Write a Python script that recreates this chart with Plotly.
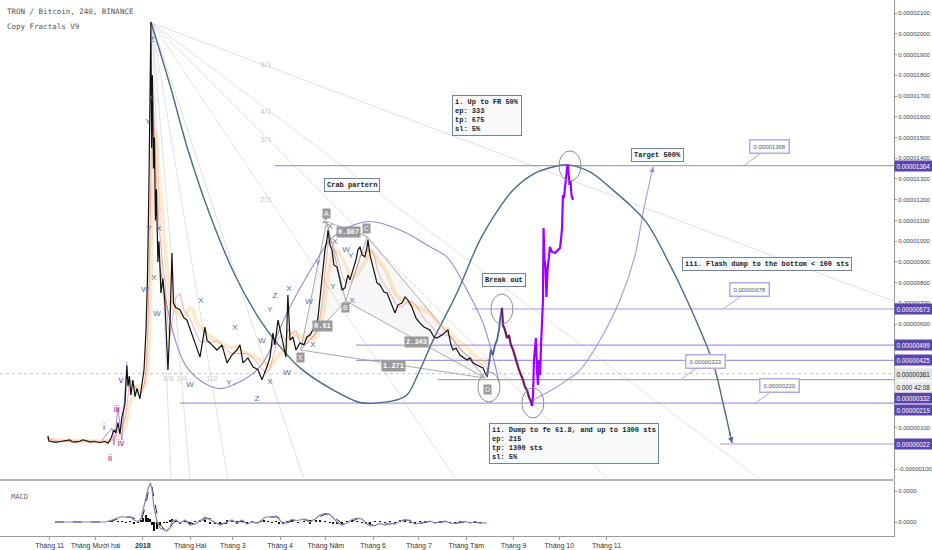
import pandas as pd
import plotly.graph_objects as go

BASE = pd.Timestamp("2017-11-01")
SAT = 1e-8


def when(days):
    return [BASE + pd.Timedelta(days=float(d)) for d in days]


def btc(sats):
    return [s * SAT for s in sats]


def split(pairs):
    return [p[0] for p in pairs], [p[1] for p in pairs]


# ---------------- data (days since 2017-11-01, price in satoshi) ----------------
price_obs = [
    (-1.2, 60), (-0.6, 36), (1.4, 33), (4.0, 30), (6.7, 34), (10.0, 38), (13.2, 42), (14.5, 33),
    (16.5, 31), (19.8, 35), (21.5, 42), (23.1, 40), (26.4, 31), (29.6, 34), (32.9, 28), (36.2, 35),
    (38.2, 26), (40.1, 48), (42.1, 90), (43.4, 75), (44.7, 125), (46.0, 70), (47.3, 150), (49.3, 215),
    (50.6, 400), (51.3, 300), (52.2, 350), (53.2, 258), (54.5, 330), (55.9, 250), (57.2, 290),
    (59.1, 240), (60.4, 300), (61.8, 380), (63.1, 570), (64.0, 800), (65.0, 1250), (65.7, 1700),
    (66.3, 2057), (66.8, 1450), (67.3, 1800), (68.0, 1350), (68.6, 1500), (69.3, 1100), (69.9, 1250),
    (70.9, 900), (71.6, 1000), (72.9, 750), (74.2, 820), (75.5, 700), (76.8, 476), (77.5, 379),
    (78.8, 600), (80.1, 943), (81.1, 700), (82.7, 680), (85.4, 668), (88.0, 630), (89.9, 620),
    (91.9, 580), (93.9, 538), (95.8, 500), (98.5, 441), (101.7, 586), (103.1, 523), (106.3, 500),
    (109.6, 475), (112.9, 500), (116.2, 413), (119.4, 451), (122.7, 475), (124.7, 500), (126.7, 413),
    (129.9, 437), (133.2, 394), (136.5, 380), (139.1, 331), (141.1, 370), (142.4, 394), (144.4, 441),
    (146.3, 557), (147.6, 500), (149.6, 620), (152.9, 509), (154.8, 441), (156.1, 740), (157.5, 523),
    (159.4, 538), (161.4, 475), (164.0, 509), (166.6, 500), (168.6, 538), (170.6, 547), (172.5, 572),
    (174.5, 595), (175.8, 629), (177.1, 716), (178.4, 828), (179.7, 909), (180.4, 958), (181.7, 1006),
    (182.4, 1054), (183.7, 982), (185.0, 958), (186.3, 885), (188.3, 875), (190.2, 813), (191.6, 765),
    (193.5, 775), (195.5, 837), (196.8, 813), (198.8, 861), (200.7, 909), (202.0, 958), (203.4, 972),
    (204.7, 934), (206.6, 925), (207.9, 968), (208.6, 1006), (209.9, 934), (211.2, 895), (213.2, 837),
    (214.5, 799), (216.5, 789), (219.1, 755), (221.1, 750), (223.0, 716), (225.0, 678), (226.3, 654),
    (228.3, 693), (230.9, 702), (232.9, 731), (234.8, 716), (237.4, 682), (240.1, 629), (242.7, 605),
    (245.3, 586), (249.2, 572), (251.9, 538), (253.8, 533), (257.1, 547), (261.0, 572), (263.0, 500),
    (264.3, 476), (266.3, 485), (268.9, 451), (271.5, 437), (273.5, 427), (275.5, 437), (277.4, 413),
    (280.1, 403), (282.0, 398), (284.0, 389), (286.6, 345),
]
fractal_up = [
    (286.6, 345), (287.9, 403), (289.2, 476), (290.5, 451), (291.9, 500), (293.2, 523), (294.5, 572),
    (295.1, 620), (295.8, 658), (296.4, 678),
]
fractal_dump = [
    (296.4, 678), (297.1, 595), (298.4, 572), (299.7, 533), (301.0, 547), (302.3, 500), (303.7, 476),
    (305.0, 441), (306.3, 418), (307.6, 379), (308.9, 355), (310.2, 331), (311.5, 297), (312.8, 283),
    (314.1, 249), (315.5, 225), (316.1, 205),
]
fractal_pump = [
    (316.1, 205), (316.8, 258), (317.4, 427), (318.1, 500), (318.7, 533), (319.4, 379), (320.0, 307),
    (320.7, 427), (321.4, 355), (322.0, 490), (322.7, 620), (323.3, 716), (323.7, 1063), (324.3, 909),
    (325.0, 875), (325.6, 731), (326.3, 861), (327.3, 958), (327.9, 972), (329.2, 948), (331.2, 943),
    (333.2, 958), (334.5, 967), (335.1, 1006), (335.8, 1063), (336.4, 1222), (337.1, 1208),
    (337.7, 1256), (338.4, 1319), (339.1, 1353), (339.7, 1368), (340.2, 1319), (340.7, 1271),
    (341.3, 1295), (342.0, 1222), (343.0, 1199),
]

# big hand-drawn wave curve
wave_curve = [
    (66.3, 2057), (78.8, 1753), (90.6, 1440), (105.0, 1127), (121.4, 837), (137.8, 620), (148.9, 509),
    (164.0, 389), (185.6, 283), (203.3, 222), (215.0, 220), (226.2, 232), (234.1, 258), (241.5, 360),
    (251.4, 524), (266.9, 750), (282.0, 1005), (295.1, 1164), (303.6, 1246), (318.1, 1328),
    (331.2, 1360), (339.7, 1368), (354.1, 1334), (369.2, 1246), (380.4, 1174), (391.5, 1087),
    (403.3, 933), (417.7, 716), (434.8, 413), (441.3, 220), (447.2, 27),
]
crab_arc = [
    (72.2, 877), (89.6, 395), (109.4, 291), (120.3, 307), (137.8, 395), (157.5, 684), (175.0, 909),
    (185.9, 1022), (207.7, 1094), (229.6, 1054), (249.2, 973), (260.4, 923), (273.5, 764),
    (284.0, 605), (290.6, 441), (294.5, 320),
]
target_arc = [
    (316.8, 234), (331.2, 292), (347.6, 378), (360.7, 523), (373.8, 716), (383.7, 933),
    (388.9, 1136), (393.5, 1295), (395.5, 1358),
]
impulse_zigzag = [(32.9, 27), (40.8, 99), (42.1, 17), (44.7, 196), (47.3, 41), (50.6, 418)]

# horizontal levels
level_sats = [1364, 673, 499, 425, 332, 219, 22]
level_start_days = [147.6, 276.8, 200.7, 200.7, 254.5, 85.3, 439.3]
level_tag_shift = [0, 0, 0, 0, -18, -7, 0]
last_price_sats = 361

# Gann fan from the January top
fan_origin = (67.0, 2052)
fan_ends = [(552.7, 712), (464.7, -142), (365.2, -142), (265.8, -142), (166.4, -142),
            (116.7, -142), (91.8, -142), (79.4, -142)]
fan_labels = ["8/1", "4/1", "3/1", "2/1", "1/8", "1/4", "1/2"]
fan_label_days = [141.7, 141.7, 141.7, 141.7, 77.5, 86.7, 106.3]
fan_label_sats = [1850, 1623, 1488, 1199, 336, 336, 336]

# crab pattern XABCD
crab_names = ["X", "A", "B", "C", "D"]
crab_days = [164.5, 181.5, 194.0, 208.1, 285.3]
crab_sats = [475, 1094, 712, 1022, 340]
crab_label_days = [164.5, 181.5, 194.0, 207.9, 287.2]
crab_label_sats = [438, 1135, 678, 1059, 283]
ratio_text = ["0.807", "0.61", "2.343", "1.271"]
ratio_days = [195.6, 179.1, 240.4, 225.3]
ratio_sats = [1042, 589, 512, 398]

# wave labels
wave_text = ["Z", "X", "Y", "X", "Y", "W", "X", "W", "X", "X", "W", "Y", "Z", "W", "Y", "Z", "X",
             "X", "W", "W", "X", "Y", "Z", "X", "X", "W", "Y", "X", "Y"]
wave_days = [67.0, 66.3, 64.4, 71.6, 65.0, 62.4, 68.3, 70.3, 99.1, 121.4, 91.9, 117.5, 135.8, 139.1,
             144.3, 147.6, 156.8, 144.3, 155.5, 169.9, 172.5, 175.8, 180.4, 183.7, 187.0, 194.2,
             197.4, 198.1, 185.6]
wave_sats = [1970, 1691, 1575, 1059, 1059, 765, 823, 649, 712, 582, 307, 316, 239, 519, 668, 736, 770,
             321, 365, 707, 500, 895, 1097, 1069, 996, 958, 929, 712, 779]
roman_text = ["i", "ii", "iii", "iv", "v"]
roman_days = [35.5, 39.5, 44.0, 46.7, 46.7]
roman_sats = [99, -50, 186, 22, 326]

# marked circles (day, sats)
circle_points = [(341.0, 1363), (296.4, 673), (287.9, 297), (316.7, 220)]

# text notes: (text, day, sats, anchor)
notes = [
    ("i. Up to FR 50%<br>ep: 333<br>tp: 675<br>sl: 5%", 263.6, 1705, "left", "top"),
    ("Target 500%", 398.7, 1416, "center", "middle"),
    ("iii. Flash dump to the bottom &lt; 100 sts", 470.1, 892, "center", "middle"),
    ("Break out", 297.7, 813, "center", "middle"),
    ("Crab partern", 198.4, 1273, "center", "middle"),
    ("ii. Dump to fe 61.8, and up to 1300 sts<br>ep: 215<br>tp: 1300 sts<br>sl: 5%", 287.9, 123,
     "left", "top"),
]
# price callouts: text, box centre (day, sats), pointer (day, sats)
callouts = [
    ("0.00001368", 471.9, 1457, 455.7, 1368),
    ("0.00000678", 459.0, 765, 441.2, 672),
    ("0.00000333", 429.8, 418, 413.1, 331),
    ("0.00000220", 478.6, 304, 462.2, 218),
]

# MACD (satoshi)
macd_days = [3.4, 36.2, 40.8, 44.7, 47.3, 50.0, 52.6, 55.2, 57.8, 59.8,
             61.1, 63.1, 64.4, 66.0, 67.0, 68.3, 70.3, 72.2, 74.9, 76.8,
             78.8, 80.1, 82.7, 85.4, 88.6, 91.9, 95.2, 98.5, 101.7, 105.0,
             108.3, 111.6, 116.2, 119.4, 122.7, 126.0, 129.3, 132.6, 136.5, 140.5,
             143.1, 145.7, 148.3, 150.3, 152.9, 155.5, 158.8, 162.7, 166.6, 170.6,
             174.5, 177.1, 180.4, 183.7, 185.6, 188.3, 191.6, 194.9, 198.2, 201.5,
             204.7, 207.3, 210.0, 213.2, 216.5, 219.8, 223.0, 226.3, 229.6, 232.8,
             236.1, 239.4, 242.7, 245.9, 249.2, 252.5, 255.8, 259.0, 262.3, 265.6,
             268.9, 272.2, 275.5, 278.7, 282.0, 286.6]
macd_sats = [0, 0, 20, 40, 55, 45, 55, 20, 5, 30,
             110, 250, 330, 390, 330, 150, 10, -60, -80, -90,
             -60, 10, 20, -10, 20, -30, -20, 10, 50, 25,
             0, -30, 0, 20, -10, 20, -20, 0, -10, 40,
             55, 45, 60, 30, -20, 0, 25, 15, 30, 0,
             35, 70, 85, 75, 40, 0, -30, -10, 25, 40,
             30, -10, -40, -35, -15, -30, -10, -20, 10, 25,
             10, -20, -10, 0, 10, -10, 0, 10, -10, -15,
             0, 5, -10, 0, -10, -10]

month_ticks = ["2017-11-01", "2017-12-01", "2018-01-01", "2018-02-01", "2018-03-01", "2018-04-01",
               "2018-05-01", "2018-06-01", "2018-07-01", "2018-08-01", "2018-09-01", "2018-10-01",
               "2018-11-01"]
month_text = ["Tháng 11", "Tháng Mười hai", "<b>2018</b>", "Tháng Hai", "Tháng 3", "Tháng 4",
              "Tháng Năm", "Tháng 6", "Tháng 7", "Tháng Tám", "Tháng 9", "Tháng 10", "Tháng 11"]
price_ticks_sats = list(range(-100, 2101, 100))
hidden_tick_sats = [0, 200, 300, 400, 500]   # covered by the level tags
view_days = (-32.6, 553.4)
view_sats = (-147, 2163)
macd_view = (-140, 410)

# ---------------- figure ----------------
fig = go.Figure()
LVL = "rgba(140,120,210,0.75)"
FAN = "rgba(200,200,200,0.55)"


def line(pairs, color, width, shape="linear", dash="solid", smoothing=1.0, yaxis="y"):
    d, s = split(pairs)
    fig.add_trace(go.Scatter(x=when(d), y=btc(s), mode="lines", yaxis=yaxis,
                             line=dict(color=color, width=width, shape=shape, dash=dash,
                                       smoothing=smoothing if shape == "spline" else None),
                             hoverinfo="skip", showlegend=False))


# fan lines
for end in fan_ends:
    line([fan_origin, end], FAN, 1)
fig.add_trace(go.Scatter(x=when(fan_label_days), y=btc(fan_label_sats), mode="text", text=fan_labels,
                         textfont=dict(family="Liberation Sans", size=8, color="#c9c9c9"),
                         hoverinfo="skip", showlegend=False))

# level lines
for s0, d0 in zip(level_sats, level_start_days):
    line([(d0, s0), (view_days[1], s0)], LVL, 1.2)
line([(view_days[0], last_price_sats), (view_days[1], last_price_sats)], "rgba(170,170,170,0.7)", 1,
     dash="dot")

# crab pattern
cd = crab_days
cs = crab_sats
for tri in [(0, 1, 2, 0), (2, 3, 4, 2)]:
    fig.add_trace(go.Scatter(x=when([cd[i] for i in tri]), y=btc([cs[i] for i in tri]), mode="lines",
                             fill="toself", fillcolor="rgba(190,190,190,0.12)",
                             line=dict(color="rgba(150,150,150,0.8)", width=1),
                             hoverinfo="skip", showlegend=False))
for a, b in [(1, 3), (0, 4)]:
    line([(cd[a], cs[a]), (cd[b], cs[b])], "rgba(150,150,150,0.8)", 1)

# curves
line(crab_arc, "rgba(140,125,205,0.9)", 1.1, shape="spline", smoothing=1.0)
line(target_arc, "rgba(160,140,220,0.9)", 1.1, shape="spline", smoothing=0.8)
line(wave_curve, "#4a6b8a", 1.4, shape="spline", smoothing=1.0)
line(impulse_zigzag, "rgba(150,110,210,0.8)", 1)

# indicator shading from the observed price
pd_days, pd_sats = split(price_obs)
slow = pd.Series(pd_sats).rolling(8, min_periods=1).mean().tolist()
fast = pd.Series(pd_sats).rolling(4, min_periods=1).mean().tolist()
fig.add_trace(go.Scatter(x=when(pd_days), y=btc(slow), mode="lines",
                         line=dict(color="rgba(255,183,90,0.3)", width=4),
                         hoverinfo="skip", showlegend=False))
fig.add_trace(go.Scatter(x=when(pd_days), y=btc(fast), mode="lines",
                         line=dict(color="rgba(230,110,110,0.7)", width=0.8),
                         hoverinfo="skip", showlegend=False))

# price and fractal projections
line(price_obs, "#111111", 1.2)
line(fractal_up, "#4f5ea8", 1.8)
line(fractal_dump, "#6e1a64", 2.2)
line(fractal_pump, "#9d00ff", 2.2)

# wave labels
fig.add_trace(go.Scatter(x=when(wave_days), y=btc(wave_sats), mode="text", text=wave_text,
                         textfont=dict(family="Liberation Sans", size=8, color="#4f6f96"),
                         hoverinfo="skip", showlegend=False))
fig.add_trace(go.Scatter(x=when(roman_days), y=btc(roman_sats), mode="text", text=roman_text,
                         textfont=dict(family="Liberation Sans", size=9, color="#8e24aa"),
                         hoverinfo="skip", showlegend=False))

# MACD pane
signal = pd.Series(macd_sats).rolling(2, min_periods=1).mean().tolist()
hist = [m - s for m, s in zip(macd_sats, signal)]
fig.add_trace(go.Bar(x=when(macd_days), y=btc(hist), yaxis="y2",
                     marker=dict(color="#111111", line=dict(width=0)),
                     width=0.9 * 86400000, hoverinfo="skip", showlegend=False))
fig.add_trace(go.Scatter(x=when(macd_days), y=btc(signal), yaxis="y2", mode="lines",
                         line=dict(color="#222222", width=1, dash="dash"), hoverinfo="skip",
                         showlegend=False))
fig.add_trace(go.Scatter(x=when(macd_days), y=btc(macd_sats), yaxis="y2", mode="lines",
                         line=dict(color="#8a80b6", width=1.2), hoverinfo="skip", showlegend=False))

ann = []
MONO = "Liberation Mono"
for text, d, s, xa, ya in notes:
    ann.append(dict(x=when([d])[0], y=s * SAT, xref="x", yref="y", text="<b>" + text + "</b>",
                    showarrow=False, xanchor=xa, yanchor=ya, align="left",
                    font=dict(family=MONO, size=7, color="#222222"),
                    bgcolor="#f8fafc", bordercolor="#6f8598", borderwidth=1, borderpad=2))
for text, bd, bs, pdd, ps in callouts:
    ann.append(dict(x=when([pdd])[0], y=ps * SAT, xref="x", yref="y", ax=when([bd])[0], ay=bs * SAT,
                    axref="x", ayref="y", text=text, showarrow=True, arrowhead=0, arrowwidth=1,
                    arrowcolor="#b7aae3", font=dict(family="Liberation Sans", size=6, color="#4f5b66"),
                    bgcolor="#ffffff", bordercolor="#b7aae3", borderwidth=1.5, borderpad=3))
for name, d, s in zip(crab_names, crab_label_days, crab_label_sats):
    ann.append(dict(x=when([d])[0], y=s * SAT, xref="x", yref="y", text=name, showarrow=False,
                    font=dict(family="Liberation Sans", size=7, color="#ffffff"),
                    bgcolor="#9a9a9a", borderpad=1))
for t, d, s in zip(ratio_text, ratio_days, ratio_sats):
    ann.append(dict(x=when([d])[0], y=s * SAT, xref="x", yref="y", text="<b>" + t + "</b>",
                    showarrow=False, font=dict(family=MONO, size=7, color="#ffffff"),
                    bgcolor="#9a9a9a", borderpad=1))
# arrowheads on curves
for pairs in (wave_curve, target_arc):
    (d1, s1), (d2, s2) = pairs[-2], pairs[-1]
    ann.append(dict(x=when([d2])[0], y=s2 * SAT, ax=when([d2 - (d2 - d1) * 0.3])[0],
                    ay=(s2 - (s2 - s1) * 0.3) * SAT, xref="x", yref="y", axref="x", ayref="y",
                    text="", showarrow=True, arrowhead=2, arrowsize=0.9, arrowwidth=1.2,
                    arrowcolor="#4a6b8a" if pairs is wave_curve else "#a08cdc"))
# price-axis tags
TAGFONT = "Liberation Sans Narrow"
for s, sh in zip(level_sats, level_tag_shift):
    ann.append(dict(x=1, y=s * SAT, xref="paper", yref="y", xanchor="left", yshift=sh,
                    text=f"{s * SAT:.8f}", showarrow=False,
                    font=dict(family="Liberation Sans", size=6.3, color="#ffffff"),
                    bgcolor="#5b45a9", borderpad=1.5))
ann.append(dict(x=1, y=last_price_sats * SAT, xref="paper", yref="y", xanchor="left",
                text=f"{last_price_sats * SAT:.8f}", showarrow=False,
                font=dict(family="Liberation Sans", size=6.3, color="#222222"),
                bgcolor="#e2e2e2", borderpad=1.5))
ann.append(dict(x=1, y=last_price_sats * SAT, xref="paper", yref="y", xanchor="left", yshift=-13,
                text="0.000 42:08", showarrow=False,
                font=dict(family="Liberation Sans", size=6.3, color="#222222"),
                bgcolor="#ececec", borderpad=1.5))
ann.append(dict(x=0.006, y=0.978, xref="paper", yref="paper", xanchor="left", yanchor="middle",
                text="TRON / Bitcoin, 240, BINANCE", showarrow=False,
                font=dict(family="DejaVu Sans Mono", size=7.5, color="#555555")))
ann.append(dict(x=0.006, y=0.95, xref="paper", yref="paper", xanchor="left", yanchor="middle",
                text="Copy Fractals V9", showarrow=False,
                font=dict(family="DejaVu Sans Mono", size=7.5, color="#555555")))
ann.append(dict(x=0.01, y=0.073, xref="paper", yref="paper", xanchor="left", yanchor="middle",
                text="MACD", showarrow=False,
                font=dict(family="DejaVu Sans Mono", size=7, color="#666666")))

shapes = []
for d, s in circle_points:
    shapes.append(dict(type="circle", xref="x", yref="y", xsizemode="pixel", ysizemode="pixel",
                       xanchor=when([d])[0], yanchor=s * SAT, x0=-11, x1=11, y0=-15, y1=15,
                       line=dict(color="#8c8c8c", width=1)))
shapes.append(dict(type="line", xref="paper", yref="paper", x0=0, x1=1, y0=0.1045, y1=0.1045,
                   line=dict(color="#b5b5b5", width=2)))

price_tick_text = ["" if v in hidden_tick_sats else f"{v * SAT:.8f}" for v in price_ticks_sats]

fig.update_layout(
    width=932, height=550, template="none",
    margin=dict(l=0, r=38, t=0, b=14),
    paper_bgcolor="#ffffff", plot_bgcolor="#ffffff",
    showlegend=False, bargap=0,
    xaxis=dict(domain=[0, 1], anchor="y2", range=when(view_days), tickvals=month_ticks,
               ticktext=month_text, showgrid=False, zeroline=False, showline=True, linecolor="#9a9a9a",
               ticks="outside", ticklen=3, tickcolor="#9a9a9a", automargin=False,
               tickfont=dict(family="Liberation Sans", size=7, color="#333333")),
    yaxis=dict(domain=[0.1063, 1], anchor="x", side="right", range=btc(view_sats),
               tickvals=btc(price_ticks_sats), ticktext=price_tick_text,
               showgrid=False, zeroline=False, showline=True, linecolor="#9a9a9a", ticks="outside",
               ticklen=2, tickcolor="#9a9a9a", automargin=False,
               tickfont=dict(family="Liberation Sans", size=6, color="#444444")),
    yaxis2=dict(domain=[0, 0.1026], anchor="x", side="right", range=btc(macd_view),
                tickvals=btc([0, 310]), ticktext=["0.0000", "0.0000"], showgrid=False, zeroline=False,
                showline=True, linecolor="#9a9a9a", ticks="outside", ticklen=2, tickcolor="#9a9a9a",
                automargin=False, tickfont=dict(family="Liberation Sans", size=6, color="#444444")),
    annotations=ann, shapes=shapes,
)

fig.write_html("out.html", config={"displayModeBar": False},
               post_script="document.body.style.margin='0';document.body.style.padding='0';"
                           "document.body.style.overflow='hidden';")
